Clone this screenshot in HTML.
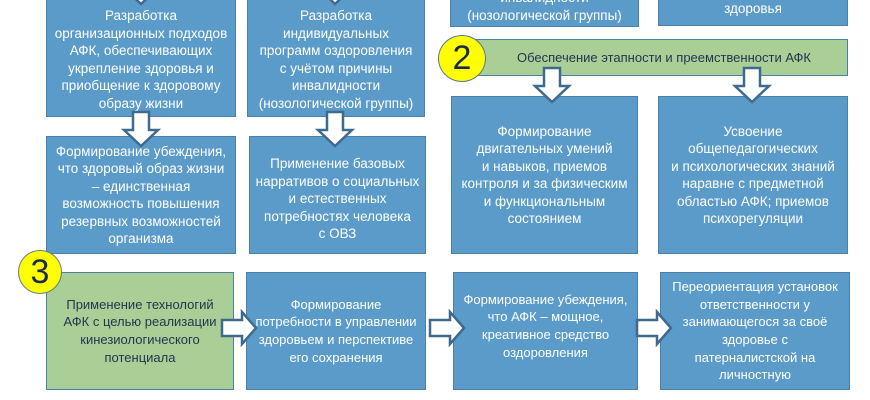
<!DOCTYPE html>
<html><head><meta charset="utf-8"><style>
body{margin:0;width:870px;height:400px;background:#fff;position:relative;overflow:hidden;font-family:"Liberation Sans","DejaVu Sans",sans-serif;}
.b{position:absolute;background:#5b9bc9;border:1px solid #4b80ab;box-sizing:border-box;color:#fff;font-size:13.5px;line-height:17.5px;text-align:center;display:flex;align-items:center;justify-content:center;padding:0;white-space:nowrap;}
.g{background:#a9cf96;color:#1f3550;}
.c{font-size:13px;line-height:17.7px;}
.circ{position:absolute;border-radius:50%;background:#ffff00;border:1.5px solid #5a7890;box-sizing:border-box;color:#1a2a50;font-size:34px;display:flex;align-items:center;justify-content:center;}
svg{position:absolute;left:0;top:0;}
</style></head><body>
<div class="b" style="left:46px;top:-2px;width:190px;height:119px;padding-top:4px;">Разработка<br>организационных подходов<br>АФК, обеспечивающих<br>укрепление здоровья и<br>приобщение к здоровому<br>образу жизни</div>
<div class="b" style="left:247px;top:-2px;width:178px;height:119px;padding-top:4px;">Разработка<br>индивидуальных<br>программ оздоровления<br>с учётом причины<br>инвалидности<br>(нозологической группы)</div>
<div class="b" style="left:450px;top:-20px;width:189px;height:47px;align-items:flex-end;padding-bottom:2px;">инвалидности<br>(нозологической группы)</div>
<div class="b" style="left:658px;top:-20px;width:190px;height:46px;align-items:flex-end;padding-bottom:8px;">здоровья</div>
<div class="b g" style="left:470px;top:39px;width:378px;height:37px;padding-left:10px;font-size:13px;">Обеспечение этапности и преемственности АФК</div>
<div class="circ" style="left:438px;top:35px;width:48px;height:47px;">2</div>
<div class="b" style="left:46px;top:136px;width:190px;height:118px;">Формирование убеждения,<br>что здоровый образ жизни<br>– единственная<br>возможность повышения<br>резервных возможностей<br>организма</div>
<div class="b" style="left:249px;top:136px;width:177px;height:118px;padding-top:8px;">Применение базовых<br>нарративов о социальных<br>и естественных<br>потребностях человека<br>с ОВЗ</div>
<div class="b" style="left:451px;top:96px;width:187px;height:158px;">Формирование<br>двигательных умений<br>и навыков, приемов<br>контроля и за физическим<br>и функциональным<br>состоянием</div>
<div class="b" style="left:658px;top:96px;width:190px;height:158px;">Усвоение<br>общепедагогических<br>и психологических знаний<br>наравне с предметной<br>областью АФК; приемов<br>психорегуляции</div>
<div class="b g c" style="left:46px;top:272px;width:188px;height:118px;">Применение технологий<br>АФК с целью реализации<br>кинезиологического<br>потенциала</div>
<div class="b c" style="left:246px;top:272px;width:180px;height:118px;">Формирование<br>потребности в управлении<br>здоровьем и перспективе<br>его сохранения</div>
<div class="b c" style="left:453px;top:272px;width:185px;height:118px;padding-bottom:10px;">Формирование убеждения,<br>что АФК – мощное,<br>креативное средство<br>оздоровления</div>
<div class="b c" style="left:660px;top:272px;width:190px;height:118px;">Переориентация установок<br>ответственности у<br>занимающегося за своё<br>здоровье с<br>патерналистской на<br>личностную</div>
<div class="circ" style="left:18px;top:250px;width:44px;height:44px;">3</div>
<svg width="870" height="400">
<defs><g id="d"><polygon points="-8,0 8,0 8,18 17,18 0,34 -17,18 -8,18" fill="#fff" stroke="#3f6a8e" stroke-width="2.5"/></g>
<g id="r"><polygon points="0,-8 20,-8 20,-16 34,0 20,16 20,8 0,8" fill="#fff" stroke="#3f6a8e" stroke-width="2.5"/></g></defs>
<use href="#d" x="141" y="-30"/><use href="#d" x="335" y="-30"/>
<use href="#d" x="141" y="112"/><use href="#d" x="335" y="112"/>
<use href="#d" x="552" y="68"/><use href="#d" x="752" y="68"/>
<use href="#r" x="222" y="328"/><use href="#r" x="430" y="328"/><use href="#r" x="637" y="328"/>
</svg>
</body></html>
